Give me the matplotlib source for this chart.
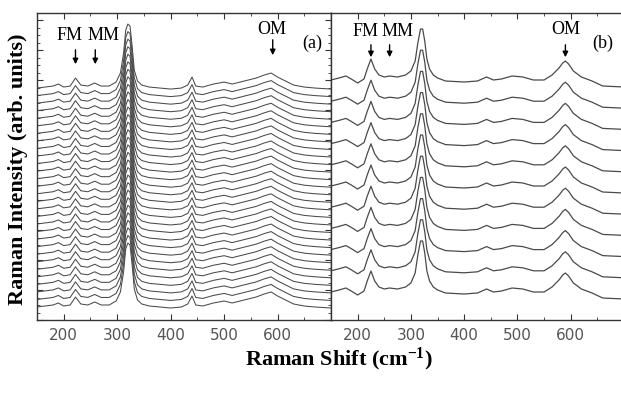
import numpy as np
import matplotlib
matplotlib.use("Agg")
import matplotlib.pyplot as plt
from matplotlib.ticker import MultipleLocator

# Data; intensities in arbitrary units
# panel (a): one spectrum shape, stacked 30 times
shift_a = [150, 165, 180, 190, 200, 212, 222, 232, 245, 258, 270, 285, 298, 306,
           312, 316, 320, 324, 328, 332, 338, 346, 360, 380, 400, 420, 432, 440,
           447, 460, 480, 500, 515, 530, 545, 560, 575, 588, 600, 615, 630, 650,
           670, 700]
inten_a = [0, 1, 2, 4, 1, 2, 10, 3, 2, 5, 2, 2, 6, 15,
           35, 58, 64, 62, 42, 18, 7, 3, 1, 0, -1, 0, 3, 11,
           2, 1, 4, 6, 4, 6, 8, 10, 13, 15, 11, 7, 3, 1,
           0, -1]
n_a = 30
base_a = 13
step_a = 7.55

# panel (b): 11 stacked spectra
shift_b = [150, 165, 178, 188, 200, 212, 218, 225, 232, 240, 250, 260, 275, 290,
           300, 308, 313, 318, 322, 326, 330, 335, 342, 350, 365, 400, 425, 442,
           455, 470, 490, 510, 530, 550, 565, 578, 585, 590, 596, 605, 620, 640,
           660, 700]
inten_b = [1, 3, 5, 2, -2, 2, 12, 22, 12, 6, 4, 5, 4, 6,
           10, 20, 38, 52, 52, 40, 22, 12, 6, 3, 0, -1, 0, 4,
           1, 2, 5, 4, 1, 1, 6, 13, 18, 20, 17, 10, 4, 0,
           -5, -6]
n_b = 11
base_b = 27
step_b = 21.2

# mode markers: (label, x of text, x of arrow)
modes_a = [("FM", 210, 222), ("MM", 274, 259), ("OM", 590, 591)]
modes_b = [("FM", 215, 225), ("MM", 275, 260), ("OM", 590, 590)]

plt.rcParams["mathtext.fontset"] = "custom"
plt.rcParams["mathtext.rm"] = "Liberation Serif:bold"
plt.rcParams["mathtext.default"] = "rm"

W, H = 621, 393
fig = plt.figure(figsize=(W / 100, H / 100), dpi=100)
ax1 = fig.add_axes([37 / W, (H - 320) / H, 294 / W, 307 / H])
ax2 = fig.add_axes([331 / W, (H - 320) / H, 293 / W, 307 / H])

line_col = "#4a4a4a"
serif = "Liberation Serif"

for k in range(n_a):
    ax1.plot(shift_a, np.array(inten_a) + base_a + k * step_a, color=line_col, lw=0.75)
for k in range(n_b):
    ax2.plot(shift_b, np.array(inten_b) + base_b + k * step_b, color=line_col, lw=0.9)

for ax in (ax1, ax2):
    ax.set_xlim(150, 700)
    ax.set_ylim(0, 307)
    ax.xaxis.set_major_locator(MultipleLocator(100))
    ax.xaxis.set_minor_locator(MultipleLocator(50))
    ax.set_xticks([200, 300, 400, 500, 600])
    ax.tick_params(axis="x", which="both", direction="in", top=True, bottom=True,
                   labelsize=11, labelcolor="#555555", color="#333333", pad=6)
    ax.tick_params(axis="x", which="major", length=4)
    ax.tick_params(axis="x", which="minor", length=2)
    for s in ax.spines.values():
        s.set_color("#333333")
        s.set_linewidth(1.0)

ax1.yaxis.set_major_locator(MultipleLocator(30))
ax1.yaxis.set_minor_locator(MultipleLocator(7.5))
ax1.tick_params(axis="y", which="both", direction="in", left=True, right=True,
                labelleft=False, color="#333333")
ax1.tick_params(axis="y", which="major", length=4)
ax1.tick_params(axis="y", which="minor", length=2)
ax2.set_yticks([])
ax2.spines["right"].set_visible(False)

arrow = dict(arrowstyle="-|>", color="k", lw=1.0, mutation_scale=8)
for lab, xt, xa in modes_a:
    yt = 291 if lab == "OM" else 284
    ax1.text(xt, yt, lab, family=serif, fontsize=13, ha="center", va="center")
    y0, y1 = (283, 262) if lab == "OM" else (273, 253)
    ax1.annotate("", xy=(xa, y1), xytext=(xa, y0), arrowprops=arrow)
for lab, xt, xa in modes_b:
    yt = 291 if lab == "OM" else 288
    ax2.text(xt, yt, lab, family=serif, fontsize=13, ha="center", va="center")
    ax2.annotate("", xy=(xa, 260), xytext=(xa, 278), arrowprops=arrow)

ax1.text(664, 277, "(a)", family=serif, fontsize=13, ha="center", va="center")
ax2.text(661, 277, "(b)", family=serif, fontsize=13, ha="center", va="center")

fig.text(18 / W, (H - 169) / H, "Raman Intensity (arb. units)", family=serif,
         fontweight="bold", fontsize=16, rotation=90, ha="center", va="center")
fig.text(339 / W, (H - 359) / H, "Raman Shift (cm$^{-1}$)", family=serif,
         fontweight="bold", fontsize=16, ha="center", va="center")

fig.savefig("out.png", dpi=100, facecolor="white")
